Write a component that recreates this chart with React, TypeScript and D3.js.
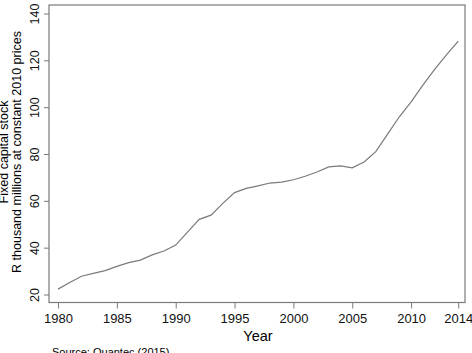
import React, { useEffect, useRef } from 'react';
import * as d3 from 'd3';

// Fixed capital stock, R thousand millions at constant 2010 prices
const years = [1980, 1981, 1982, 1983, 1984, 1985, 1986, 1987, 1988, 1989, 1990, 1991, 1992, 1993, 1994, 1995, 1996, 1997, 1998, 1999, 2000, 2001, 2002, 2003, 2004, 2005, 2006, 2007, 2008, 2009, 2010, 2011, 2012, 2013, 2014];
const stock = [22.3, 25.1, 27.8, 29.0, 30.2, 32.0, 33.6, 34.7, 36.9, 38.6, 41.1, 46.6, 52.1, 53.9, 58.9, 63.5, 65.3, 66.4, 67.6, 68.0, 69.0, 70.5, 72.3, 74.5, 74.9, 74.1, 76.6, 81.0, 88.5, 95.9, 102.3, 109.4, 116.1, 122.3, 128.2];
const xTicks = [1980, 1985, 1990, 1995, 2000, 2005, 2010, 2014];
const yTicks = [20, 40, 60, 80, 100, 120, 140];

const App: React.FC = () => {
  const svgRef = useRef<SVGSVGElement | null>(null);

  useEffect(() => {
    if (!svgRef.current) return;
    const width = 472;
    const height = 353;
    const box = { left: 49, right: 465, top: 5, bottom: 302.5 };
    const font = 'Liberation Sans, Arial, sans-serif';
    const grey = '#7a7a7a';

    const x = d3.scaleLinear().domain([1980, 2014]).range([58, 458.2]);
    const y = d3.scaleLinear().domain([20, 140]).range([294.5, 13.5]);

    const svg = d3.select(svgRef.current)
      .attr('width', width)
      .attr('height', height);
    svg.selectAll('*').remove();

    svg.append('rect')
      .attr('x', box.left)
      .attr('y', box.top)
      .attr('width', box.right - box.left)
      .attr('height', box.bottom - box.top)
      .attr('fill', 'none')
      .attr('stroke', grey)
      .attr('stroke-width', 1.2);

    // x axis
    const xAxis = svg.append('g')
      .attr('transform', `translate(0,${box.bottom})`)
      .call(d3.axisBottom(x).tickValues(xTicks).tickFormat(d3.format('d')).tickSize(6));
    xAxis.select('.domain').remove();
    xAxis.selectAll('line').attr('stroke', grey);
    xAxis.selectAll('text')
      .attr('font-family', font)
      .attr('font-size', 13)
      .attr('fill', '#111')
      .attr('dy', null)
      .attr('y', 20.5);

    // y axis
    const yAxis = svg.append('g')
      .attr('transform', `translate(${box.left},0)`)
      .call(d3.axisLeft(y).tickValues(yTicks).tickSize(5));
    yAxis.select('.domain').remove();
    yAxis.selectAll('line').attr('stroke', grey);
    yAxis.selectAll('text')
      .attr('font-family', font)
      .attr('font-size', 12.5)
      .attr('fill', '#111')
      .attr('x', null)
      .attr('dy', null)
      .attr('text-anchor', 'middle')
      .attr('transform', 'translate(-10,0) rotate(-90)');

    const line = d3.line<number>()
      .x((_, i) => x(years[i]))
      .y(d => y(d));

    svg.append('path')
      .datum(stock)
      .attr('d', line)
      .attr('fill', 'none')
      .attr('stroke', grey)
      .attr('stroke-width', 1.2);

    svg.append('text')
      .attr('x', 258)
      .attr('y', 341)
      .attr('text-anchor', 'middle')
      .attr('font-family', font)
      .attr('font-size', 14.5)
      .text('Year');

    const yLabel = svg.append('g').attr('transform', 'translate(0,152) rotate(-90)');
    yLabel.append('text')
      .attr('x', 0).attr('y', 8)
      .attr('text-anchor', 'middle')
      .attr('font-family', font)
      .attr('font-size', 12.5)
      .text('Fixed capital stock');
    yLabel.append('text')
      .attr('x', 0).attr('y', 21)
      .attr('text-anchor', 'middle')
      .attr('font-family', font)
      .attr('font-size', 12.5)
      .text('R thousand millions at constant 2010 prices');

    svg.append('text')
      .attr('x', 52)
      .attr('y', 356)
      .attr('font-family', font)
      .attr('font-size', 11)
      .text('Source: Quantec (2015)');
  }, []);

  return <svg ref={svgRef} style={{ position: 'absolute', left: 0, top: 0 }}></svg>;
};

export default App;
